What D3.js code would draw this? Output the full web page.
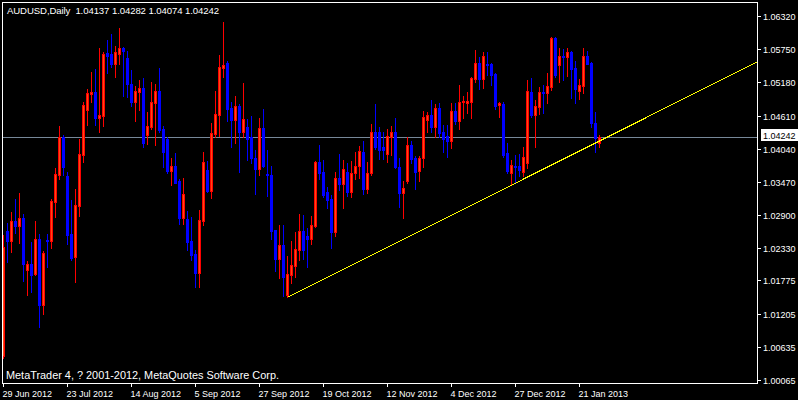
<!DOCTYPE html>
<html><head><meta charset="utf-8">
<script src="https://cdn.jsdelivr.net/npm/d3@7"></script>
<style>
html,body{margin:0;padding:0;background:#000;}
svg{display:block;}
text{font-family:"Liberation Sans",Arial,sans-serif;fill:#fff;}
</style></head>
<body><svg id="c" width="798" height="400"></svg>
<script>
const symbol = "AUDUSD,Daily";
const lastQuote = ["1.04137","1.04282","1.04074","1.04242"];
const watermark = "MetaTrader 4, ? 2001-2012, MetaQuotes Software Corp.";

const open = [
1.00478,1.02626,1.02459,1.02797,1.02717,1.02849,1.01960,1.02058,1.01892,1.02488,
1.01354,1.02471,1.02459,1.03129,1.03588,1.04236,1.03571,1.02569,1.02184,1.03060,
1.03937,1.04710,1.04985,1.05019,1.04572,1.04607,1.05684,1.05672,1.05500,1.05672,
1.05770,1.05598,1.05146,1.04847,1.05019,1.05078,1.04275,1.04418,1.04830,1.05031,
1.04378,1.04212,1.03662,1.03742,1.03490,1.02854,1.02827,1.02454,1.02235,1.01909,
1.02797,1.03674,1.03313,1.04292,1.04619,1.05421,1.05518,1.04744,1.04533,1.04774,
1.04332,1.04408,1.04236,1.03885,1.03686,1.04395,1.03605,1.03588,1.02643,1.02139,
1.02385,1.01526,1.01869,1.02029,1.02299,1.02626,1.02540,1.02493,1.02711,1.03816,
1.03645,1.03296,1.03181,1.02614,1.03541,1.03433,1.03645,1.03301,1.03617,1.03742,
1.03988,1.03342,1.03617,1.04332,1.04332,1.04074,1.03954,1.04236,1.04332,1.03730,
1.03273,1.03490,1.04103,1.03885,1.03662,1.03875,1.04533,1.04619,1.04408,1.04744,
1.04332,1.04258,1.04177,1.04688,1.04521,1.04837,1.04830,1.04847,1.05237,1.05507,
1.05237,1.05490,1.05490,1.05323,1.04791,1.04808,1.03961,1.03627,1.03748,1.03748,
1.03645,1.03789,1.05019,1.04619,1.04751,1.05014,1.05002,1.05105,1.05947,1.05478,
1.05633,1.05610,1.05707,1.05432,1.05036,1.05122,1.05633,1.05518,1.04487,1.04137];

const high = [
1.02557,1.02768,1.02952,1.03175,1.03279,1.02918,1.02105,1.02442,1.02797,1.02569,
1.02282,1.02574,1.03175,1.03708,1.04430,1.04275,1.03634,1.03153,1.03347,1.04201,
1.04842,1.05061,1.05358,1.05409,1.05770,1.05696,1.05908,1.06011,1.05805,1.06114,
1.05782,1.05714,1.05392,1.05117,1.05220,1.05255,1.04665,1.05186,1.05152,1.05427,
1.04430,1.04236,1.03875,1.03966,1.03514,1.03536,1.02969,1.02866,1.02299,1.02986,
1.03983,1.03823,1.04481,1.05036,1.05655,1.06217,1.05547,1.04842,1.04945,1.04808,
1.05169,1.04550,1.04602,1.04017,1.04572,1.04722,1.04017,1.03748,1.02643,1.02729,
1.02729,1.02196,1.02459,1.02603,1.02918,1.02900,1.02672,1.02883,1.03834,1.04103,
1.03846,1.03376,1.03249,1.03645,1.03949,1.03846,1.03789,1.03834,1.03988,1.04086,
1.04172,1.03811,1.04464,1.04803,1.04418,1.04322,1.04378,1.04430,1.04562,1.03875,
1.03485,1.04236,1.04177,1.03914,1.03914,1.04688,1.04665,1.04877,1.04803,1.04820,
1.04447,1.04447,1.04820,1.04820,1.05134,1.04950,1.05019,1.05277,1.05736,1.05621,
1.05707,1.05696,1.05507,1.05335,1.04847,1.04847,1.04133,1.03846,1.03932,1.03944,
1.04074,1.05220,1.05250,1.04877,1.05105,1.05134,1.05346,1.05964,1.05960,1.05765,
1.05748,1.05765,1.05720,1.05547,1.05232,1.05775,1.05724,1.05525,1.04665,1.04282];

const low = [
1.00443,1.02098,1.02270,1.02586,1.02414,1.01771,1.01531,1.01582,1.01869,1.00981,
1.01199,1.02012,1.02339,1.02871,1.03519,1.03593,1.02407,1.02132,1.01754,1.02888,
1.03811,1.04452,1.04847,1.04447,1.04332,1.04430,1.05335,1.05444,1.05277,1.05500,
1.04950,1.04933,1.04774,1.04521,1.04705,1.04074,1.04121,1.04373,1.04103,1.04327,
1.03725,1.03622,1.03416,1.03445,1.02751,1.02751,1.02299,1.02132,1.01658,1.01668,
1.02729,1.03291,1.03198,1.04236,1.04258,1.05277,1.04521,1.04074,1.04143,1.03645,
1.04236,1.03846,1.03789,1.03261,1.03588,1.03730,1.03227,1.02483,1.01938,1.01813,
1.01509,1.01486,1.01737,1.01830,1.02127,1.02139,1.02002,1.02402,1.02699,1.03519,
1.03205,1.03016,1.02339,1.02540,1.03330,1.03026,1.03227,1.03215,1.03514,1.03531,
1.03261,1.03273,1.03588,1.04029,1.03863,1.03863,1.03816,1.03932,1.03703,1.03043,
1.02854,1.03445,1.03789,1.03347,1.03485,1.03730,1.04332,1.04332,1.04236,1.04236,
1.03988,1.03902,1.04057,1.04464,1.04378,1.04572,1.04658,1.04572,1.05191,1.05061,
1.05078,1.05306,1.05134,1.04722,1.04590,1.03902,1.03617,1.03433,1.03445,1.03571,
1.03571,1.03713,1.04590,1.04074,1.04636,1.04648,1.04830,1.05048,1.05267,1.05191,
1.05220,1.05289,1.04916,1.04830,1.04894,1.05002,1.05495,1.04408,1.03988,1.04074];

const close = [
1.02351,1.02459,1.02797,1.02717,1.02849,1.02064,1.02058,1.01869,1.02488,1.01354,
1.02247,1.02454,1.03141,1.03605,1.04236,1.03730,1.02557,1.02167,1.03072,1.03949,
1.04791,1.04997,1.05019,1.04572,1.04619,1.05672,1.05638,1.05500,1.05701,1.05770,
1.05719,1.05146,1.04847,1.05031,1.05078,1.04143,1.04430,1.04842,1.05031,1.04361,
1.03988,1.03662,1.03742,1.03455,1.02854,1.03261,1.02442,1.02213,1.01909,1.02815,
1.03811,1.03313,1.04304,1.04631,1.05444,1.05478,1.04717,1.04533,1.04774,1.04332,
1.04550,1.04212,1.03875,1.03686,1.04395,1.03748,1.03588,1.02631,1.02139,1.02385,
1.01840,1.01887,1.02041,1.02316,1.02626,1.02299,1.02493,1.02723,1.03816,1.03617,
1.03244,1.03158,1.02614,1.03541,1.03433,1.03691,1.03301,1.03617,1.03748,1.04000,
1.03342,1.03627,1.04332,1.04074,1.04017,1.04017,1.04258,1.04332,1.03720,1.03273,
1.03359,1.04103,1.03863,1.03645,1.03875,1.04590,1.04619,1.04408,1.04744,1.04315,
1.04201,1.04177,1.04688,1.04521,1.04847,1.04859,1.04859,1.05250,1.05507,1.05237,
1.05633,1.05478,1.05306,1.04779,1.04820,1.03932,1.03662,1.03760,1.03725,1.03674,
1.03892,1.05031,1.04619,1.04774,1.05014,1.04997,1.05117,1.05947,1.05306,1.05633,
1.05610,1.05707,1.05409,1.05066,1.05134,1.05633,1.05500,1.04487,1.04219,1.04242];

const dateLabels = ["29 Jun 2012","23 Jul 2012","14 Aug 2012","5 Sep 2012","27 Sep 2012",
  "19 Oct 2012","12 Nov 2012","4 Dec 2012","27 Dec 2012","21 Jan 2013"];
const dateLabelStep = 16;
const priceTicks = [1.06320,1.05750,1.05180,1.04610,1.04040,1.03470,1.02900,1.02330,1.01775,1.01205,1.00635,1.00065];
const bidPrice = 1.04242;
const trendAnchors = [[71, 1.01486], [149, 1.04172]];

const svg = d3.select("#c");
const W = 798, H = 400;
const L = 2, T = 2, R = 757, B = 383;
svg.append("rect").attr("width", W).attr("height", H).attr("fill", "#000");

const n = open.length;
const x = d3.scaleLinear().domain([0, 1]).range([3.5, 7.5]);
const y = d3.scaleLinear().domain([1.00065, 1.06320]).range([380, 16]);

svg.append("defs").append("clipPath").attr("id", "plot")
  .append("rect").attr("x", L).attr("y", T).attr("width", R - L).attr("height", B - T);

const g = svg.append("g").attr("clip-path", "url(#plot)");

// bid line
g.append("line").attr("x1", L).attr("x2", R)
  .attr("y1", Math.round(y(bidPrice)) + 0.5).attr("y2", Math.round(y(bidPrice)) + 0.5)
  .attr("stroke", "#778899").attr("stroke-width", 1).attr("shape-rendering", "crispEdges");

const bars = d3.range(n).map(i => ({i, o: open[i], h: high[i], l: low[i], c: close[i], up: close[i] >= open[i]}));

const cg = g.append("g").attr("shape-rendering", "crispEdges");
const cand = cg.selectAll("g").data(bars).join("g");
cand.append("rect")
  .attr("x", d => x(d.i) - 0.5).attr("width", 1)
  .attr("y", d => Math.round(y(d.h)))
  .attr("height", d => Math.max(1, Math.round(y(d.l)) - Math.round(y(d.h)) + 1))
  .attr("fill", d => d.up ? "#ff0000" : "#0000ff");
cand.append("rect")
  .attr("x", d => x(d.i) - 1.5).attr("width", 3)
  .attr("y", d => Math.round(y(Math.max(d.o, d.c))))
  .attr("height", d => Math.max(1, Math.round(y(Math.min(d.o, d.c))) - Math.round(y(Math.max(d.o, d.c))) + 1))
  .attr("fill", d => d.up ? "#ff0000" : "#0000ff");
cand.filter(d => d.up).append("rect")
  .attr("x", d => x(d.i) - 0.5).attr("width", 1)
  .attr("y", d => Math.round(y(Math.max(d.o, d.c))) + 1)
  .attr("height", d => Math.max(0, Math.round(y(Math.min(d.o, d.c))) - Math.round(y(Math.max(d.o, d.c))) - 1))
  .attr("fill", "#ff4a10");

// trendline ray
const [a1, a2] = trendAnchors;
const slope = (y(a2[1]) - y(a1[1])) / (x(a2[0]) - x(a1[0]));
const x1 = x(a1[0]), y1 = y(a1[1]);
g.append("line").attr("x1", x1).attr("y1", y1)
  .attr("x2", R + 5).attr("y2", y1 + slope * (R + 5 - x1))
  .attr("stroke", "#ffff00").attr("stroke-width", 1).attr("shape-rendering", "crispEdges");

// frame
svg.append("rect").attr("x", L + 0.5).attr("y", T + 0.5).attr("width", R - L).attr("height", B - T)
  .attr("fill", "none").attr("stroke", "#fff").attr("stroke-width", 1).attr("shape-rendering", "crispEdges");

// header
svg.append("text").attr("x", 7).attr("y", 14).attr("font-size", 9.6)
  .attr("xml:space", "preserve")
  .attr("textLength", 212).attr("lengthAdjust", "spacing")
  .text(symbol + "  " + lastQuote.join(" "));

// watermark
svg.append("text").attr("x", 6).attr("y", 379).attr("font-size", 10.9)
  .attr("textLength", 273).attr("lengthAdjust", "spacing").text(watermark);

// price axis
const pa = svg.append("g");
pa.selectAll("line").data(priceTicks).join("line")
  .attr("x1", R + 1).attr("x2", R + 4)
  .attr("y1", d => Math.round(y(d)) + 0.5).attr("y2", d => Math.round(y(d)) + 0.5)
  .attr("stroke", "#fff").attr("shape-rendering", "crispEdges");
pa.selectAll("text").data(priceTicks).join("text")
  .attr("x", 763).attr("y", d => Math.round(y(d)) + 4)
  .attr("font-size", 9).text(d => d.toFixed(5));

// bid label
const by = Math.round(y(bidPrice));
svg.append("rect").attr("x", 761).attr("y", by - 8).attr("width", 37).attr("height", 12).attr("fill", "#fff");
svg.append("text").attr("x", 763).attr("y", by + 2).attr("font-size", 9)
  .style("fill", "#000").text(bidPrice.toFixed(5));

// time axis
const tIdx = dateLabels.map((d, k) => k * dateLabelStep);
const ta = svg.append("g");
ta.selectAll("line").data(tIdx).join("line")
  .attr("x1", d => x(d)).attr("x2", d => x(d))
  .attr("y1", B).attr("y2", B + 4)
  .attr("stroke", "#fff").attr("shape-rendering", "crispEdges");
ta.selectAll("text").data(dateLabels).join("text")
  .attr("x", (d, k) => x(tIdx[k]) - 1).attr("y", 397)
  .attr("font-size", 9).text(d => d);
</script></body></html>
